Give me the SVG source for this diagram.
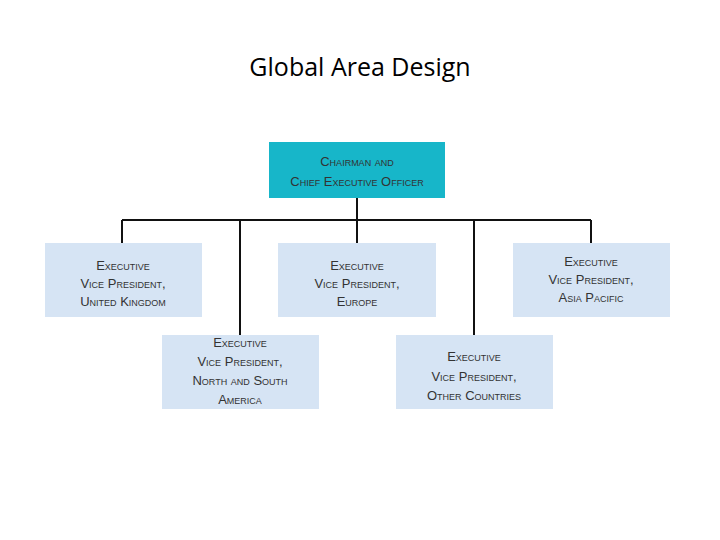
<svg xmlns="http://www.w3.org/2000/svg" width="720" height="540" viewBox="0 0 720 540">
<style>
.t{font-family:"Liberation Sans",Arial,sans-serif;font-size:13px;font-variant:small-caps;fill:#333;text-anchor:middle}
.b{fill:#d6e4f4}
.c{stroke:#111;stroke-width:2;fill:none}
</style>
<rect width="720" height="540" fill="#fff"/>
<text x="360" y="76" text-anchor="middle" font-family="'Open Sans','Liberation Sans',sans-serif" font-size="25" fill="#000">Global Area Design</text>
<g id="connectors">
<path class="c" d="M357 198V243M122 220H591M122 220V243M240 220V335M474 220V335M591 220V243"/>
</g>
<g id="ceo"><rect x="269" y="142" width="176" height="56" fill="#17b6c9"/>
<text class="t" x="357" y="166">Chairman and</text><text class="t" x="357" y="186">Chief Executive Officer</text></g>
<g id="uk"><rect class="b" x="45" y="243" width="157" height="74"/>
<text class="t" x="123" y="270">Executive</text><text class="t" x="123" y="288">Vice President,</text><text class="t" x="123" y="306">United Kingdom</text></g>
<g id="europe"><rect class="b" x="278" y="243" width="158" height="74"/>
<text class="t" x="357" y="270">Executive</text><text class="t" x="357" y="288">Vice President,</text><text class="t" x="357" y="306">Europe</text></g>
<g id="asia"><rect class="b" x="513" y="243" width="157" height="74"/>
<text class="t" x="591" y="266">Executive</text><text class="t" x="591" y="284">Vice President,</text><text class="t" x="591" y="302">Asia Pacific</text></g>
<g id="america"><rect class="b" x="162" y="335" width="157" height="74"/>
<text class="t" x="240" y="347">Executive</text><text class="t" x="240" y="366">Vice President,</text><text class="t" x="240" y="385">North and South</text><text class="t" x="240" y="404">America</text></g>
<g id="other"><rect class="b" x="396" y="335" width="157" height="74"/>
<text class="t" x="474" y="361">Executive</text><text class="t" x="474" y="381">Vice President,</text><text class="t" x="474" y="400">Other Countries</text></g>
</svg>
